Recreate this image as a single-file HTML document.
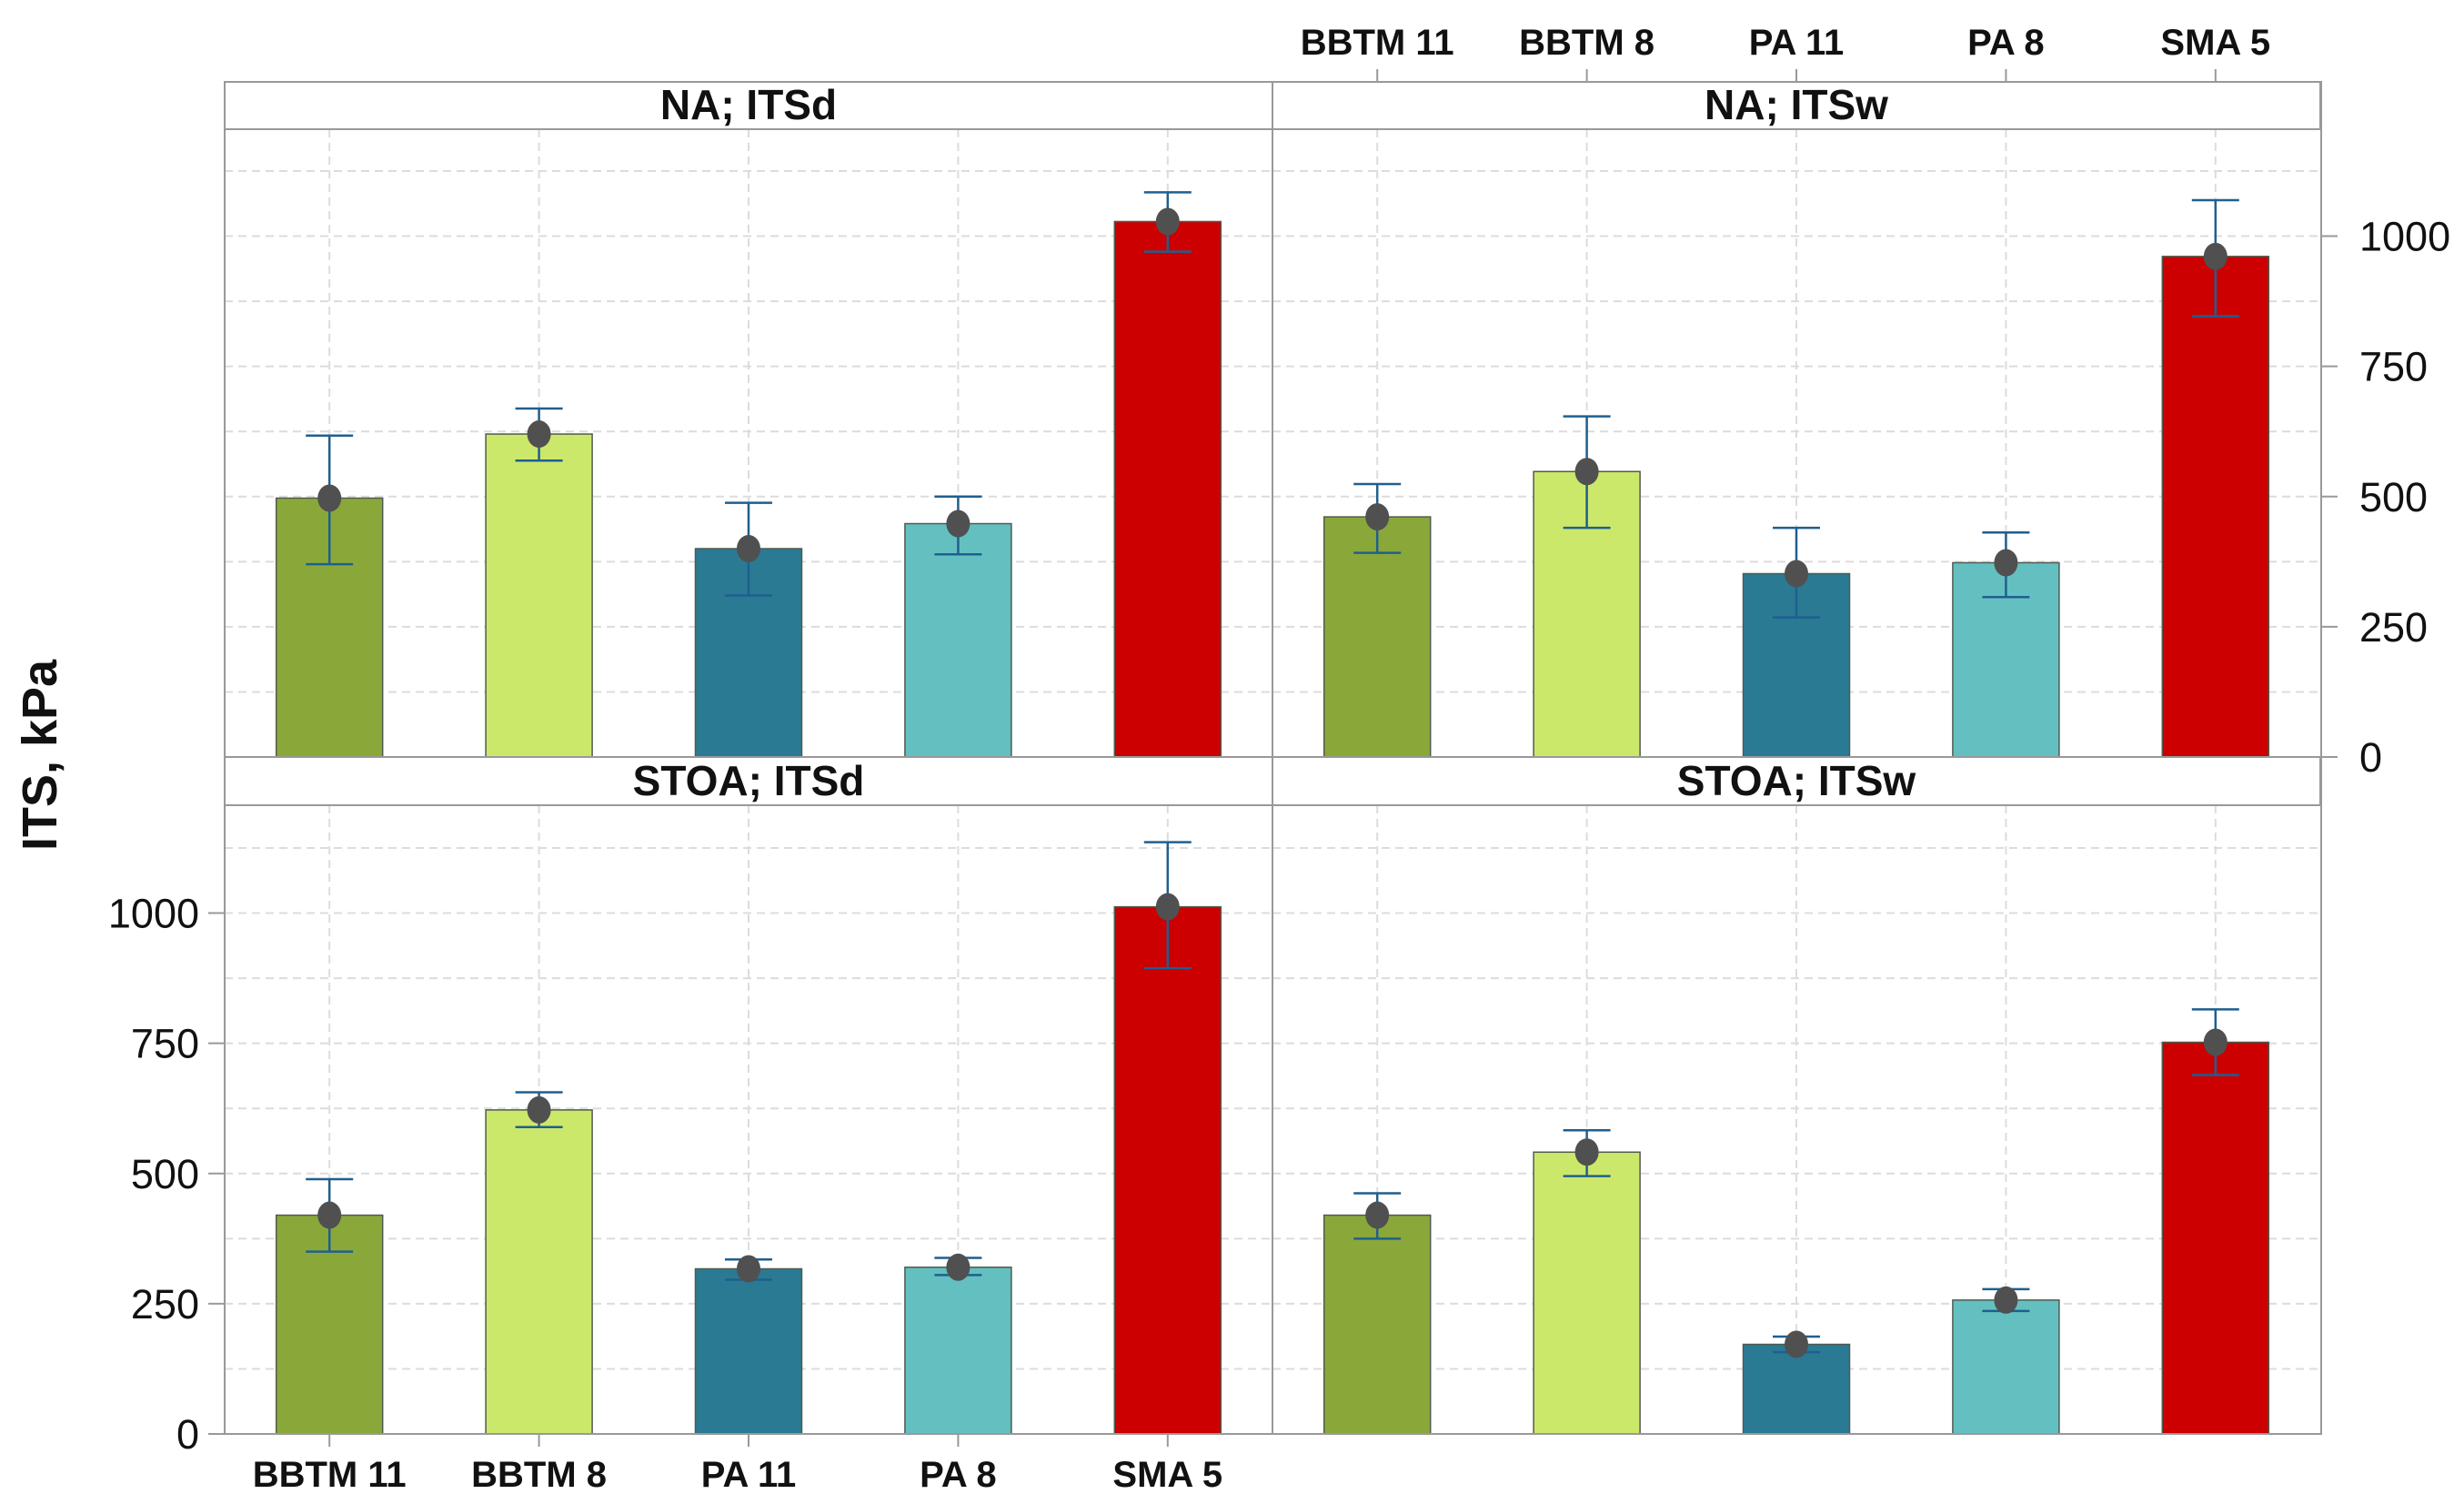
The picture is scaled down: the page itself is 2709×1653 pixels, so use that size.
<!DOCTYPE html>
<html><head><meta charset="utf-8"><style>
html,body{margin:0;padding:0;background:#fff;}
svg{display:block;font-family:"Liberation Sans",sans-serif;}
</style></head><body>
<svg id="chart" width="2709" height="1653" viewBox="0 0 2709 1653" xmlns="http://www.w3.org/2000/svg">
<rect x="0" y="0" width="2709" height="1653" fill="#fff"/>
<g id="layer"></g>
</svg>
<script>
const categories = ["BBTM 11","BBTM 8","PA 11","PA 8","SMA 5"];
const colors = ["#8aa83a","#cce86b","#2a7a94","#64c0c0","#cc0000"];
const panelTitles = ["NA; ITSd","NA; ITSw","STOA; ITSd","STOA; ITSw"];
const meanNAd = [497,620,400,448,1028];
const loNAd = [370,569,310,389,970];
const hiNAd = [617,669,488,500,1084];
const meanNAw = [461,548,352,373,961];
const loNAw = [392,440,268,307,846];
const hiNAw = [524,654,440,431,1069];
const meanSTd = [420,622,317,320,1012];
const loSTd = [350,589,296,305,894];
const hiSTd = [489,656,335,338,1136];
const meanSTw = [420,541,172,257,752];
const loSTw = [375,495,157,236,689];
const hiSTw = [462,583,187,278,815];
const yTicks = [0,250,500,750,1000];

const NS="http://www.w3.org/2000/svg";
const layer=document.getElementById('layer');
function mk(tag,attrs,parent){const e=document.createElementNS(NS,tag);for(const k in attrs)e.setAttribute(k,attrs[k]);(parent||layer).appendChild(e);return e;}

const X0=247, XM=1399, X1=2552;
const panelW=XM-X0;
const rows=[{stripTop:90,stripBot:142,zero:832},{stripTop:832,stripBot:885,zero:1576}];
const pxPerUnit=0.5725;
const step=panelW/5;
const barW=117;
const panels=[
 {col:0,row:0,mean:meanNAd,lo:loNAd,hi:hiNAd},
 {col:1,row:0,mean:meanNAw,lo:loNAw,hi:hiNAw},
 {col:0,row:1,mean:meanSTd,lo:loSTd,hi:hiSTd},
 {col:1,row:1,mean:meanSTw,lo:loSTw,hi:hiSTw}];

panels.forEach((p,pi)=>{
  const r=rows[p.row];
  const left=p.col===0?X0:XM;
  const y=v=>r.zero-v*pxPerUnit;
  const xc=i=>left+step*(i+0.5);
  const g=mk('g',{});
  
  
  // grid
  for(let v=125; y(v)>r.stripBot+2; v+=125){
    const gl=mk('line',{x1:left,x2:left+panelW,y1:y(v),y2:y(v),stroke:'#dcdcdc','stroke-width':2,'stroke-dasharray':'9,6'},g);
    
    
  }
  categories.forEach((c,i)=>{
    const gv=mk('line',{x1:xc(i),x2:xc(i),y1:r.stripBot,y2:r.zero,stroke:'#dcdcdc','stroke-width':2,'stroke-dasharray':'9,6'},g);
    
    
  });
  // bars
  categories.forEach((c,i)=>{
    const b=mk('rect',{x:xc(i)-barW/2,y:y(p.mean[i]),width:barW,height:p.mean[i]*pxPerUnit,fill:colors[i],stroke:'#505a50','stroke-width':1.5},g);
    
    
  });
  // error bars and dots
  categories.forEach((c,i)=>{
    const eg=mk('g',{stroke:'#1f5f8f','stroke-width':2.5},g);
    
    
    mk('line',{x1:xc(i),x2:xc(i),y1:y(p.lo[i]),y2:y(p.hi[i])},eg);
    mk('line',{x1:xc(i)-26,x2:xc(i)+26,y1:y(p.hi[i]),y2:y(p.hi[i])},eg);
    mk('line',{x1:xc(i)-26,x2:xc(i)+26,y1:y(p.lo[i]),y2:y(p.lo[i])},eg);
    const d=mk('ellipse',{cx:xc(i),cy:y(p.mean[i]),rx:13,ry:15,fill:'#505050'},g);
    
    
  });
  // strip
  const s=mk('rect',{x:left,y:r.stripTop,width:panelW,height:r.stripBot-r.stripTop,fill:'#fff',stroke:'#999','stroke-width':2},g);
  
  
  const t=mk('text',{x:left+panelW/2,y:r.stripBot-11,'text-anchor':'middle','font-size':46,'font-weight':'bold',fill:'#111'},g);
  t.textContent=panelTitles[pi];
  
  
});
// frame lines
mk('rect',{x:X0,y:90,width:X1-X0,height:1576-90,fill:'none',stroke:'#999','stroke-width':2});
mk('line',{x1:XM,x2:XM,y1:90,y2:1576,stroke:'#999','stroke-width':2});
mk('line',{x1:X0,x2:X1,y1:832,y2:832,stroke:'#999','stroke-width':2});

// x tick labels: top (right panel), bottom (left panel)
categories.forEach((c,i)=>{
  const xt=XM+step*(i+0.5);
  mk('line',{x1:xt,x2:xt,y1:76,y2:90,stroke:'#999','stroke-width':2});
  const tt=mk('text',{x:xt,y:60,'text-anchor':'middle','font-size':40,'font-weight':'bold',fill:'#111'});
  tt.textContent=c;
  
  
  const xb=X0+step*(i+0.5);
  mk('line',{x1:xb,x2:xb,y1:1576,y2:1590,stroke:'#999','stroke-width':2});
  const tb=mk('text',{x:xb,y:1634,'text-anchor':'middle','font-size':40,'font-weight':'bold',fill:'#111'});
  tb.textContent=c;
  
  
});
// y ticks
yTicks.forEach(v=>{
  const yr=832-v*pxPerUnit;
  mk('line',{x1:X1,x2:X1+18,y1:yr,y2:yr,stroke:'#999','stroke-width':2});
  const tr=mk('text',{x:2594,y:yr+16,'font-size':45,fill:'#111'});
  tr.textContent=String(v);
  
  
  const yl=1576-v*pxPerUnit;
  mk('line',{x1:X0-18,x2:X0,y1:yl,y2:yl,stroke:'#999','stroke-width':2});
  const tl=mk('text',{x:X0-28,y:yl+16,'text-anchor':'end','font-size':45,fill:'#111'});
  tl.textContent=String(v);
  
  
});
const yt=mk('text',{x:0,y:0,transform:'translate(62,830) rotate(-90)','text-anchor':'middle','font-size':54,'font-weight':'bold',fill:'#111'});
yt.textContent='ITS, kPa';


</script>
</body></html>
